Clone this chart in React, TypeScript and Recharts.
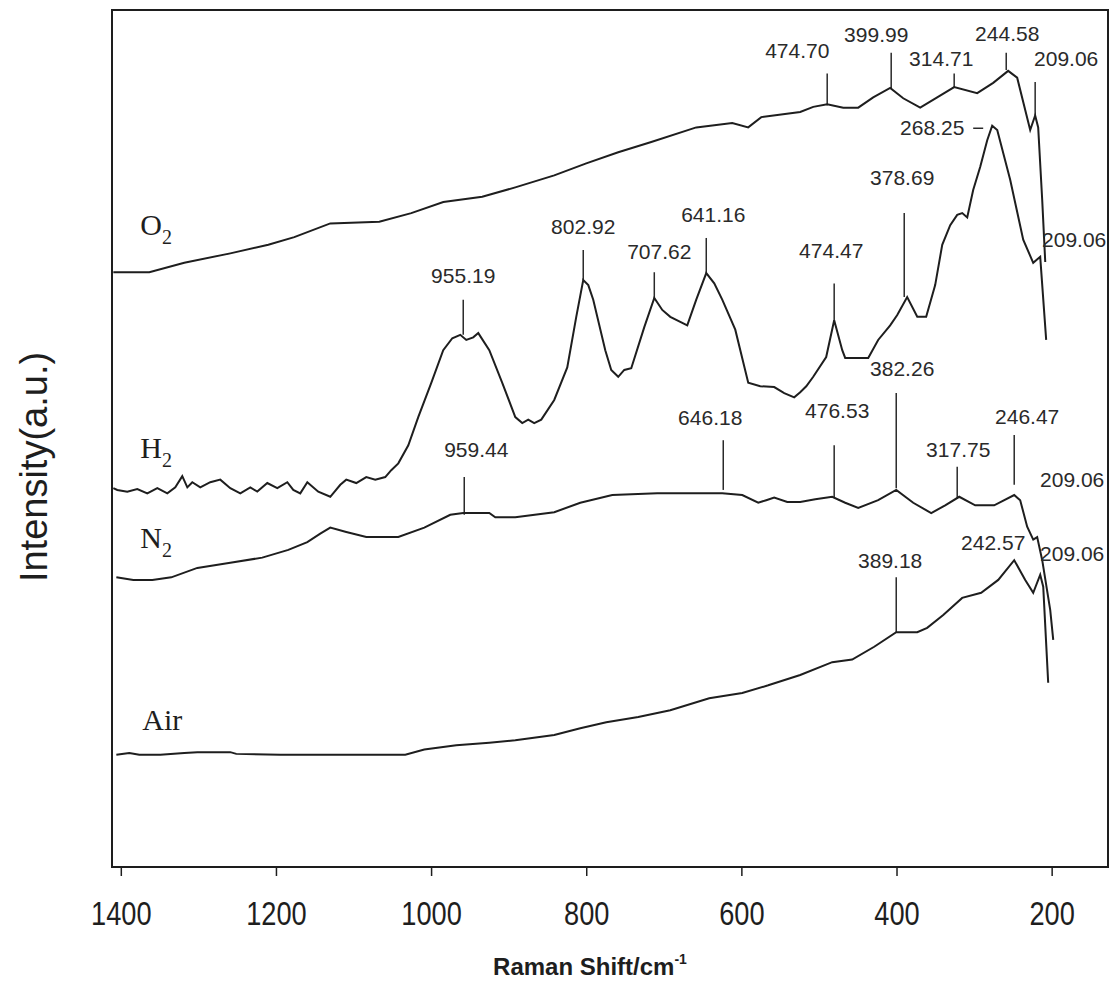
import React from "react";
import {
  ComposedChart,
  Line,
  Scatter,
  XAxis,
  YAxis,
  ReferenceLine,
  ReferenceArea,
} from "recharts";

// Raman spectra after treatment in each gas: [Raman shift (cm-1), intensity (a.u., traces offset)]
const o2Spectrum = [
  [1410.3, 69.4], [1363.9, 69.4], [1318.8, 70.5], [1259.5, 71.6], [1210.5, 72.6],
  [1177, 73.5], [1130.6, 75.1], [1067.4, 75.3], [1026.2, 76.3], [984.9, 77.6],
  [934.7, 78.2], [892.1, 79.3], [841.9, 80.7], [800.6, 82.1], [759.4, 83.4],
  [716.8, 84.6], [658.8, 86.3], [612.4, 86.8], [591.8, 86.3], [575, 87.5],
  [524.8, 88.1], [508, 88.7], [490, 89.0], [469.3, 88.6], [450, 88.6],
  [430.7, 89.8], [408.8, 90.9], [392, 89.7], [370.1, 88.6], [348.2, 89.8],
  [326.3, 91.0], [296.6, 90.3], [276, 91.5], [256.7, 92.9], [245.1, 92.1],
  [228.3, 86.0], [221.9, 87.7], [218, 86.3], [212.8, 77.8], [208.9, 70.6],
];

const h2Spectrum = [
  [1410.3, 44.2], [1405.2, 44.0], [1392.3, 43.8], [1379.4, 44.1], [1366.5, 43.6],
  [1353.6, 44.2], [1340.7, 43.6], [1330.4, 44.3], [1321.4, 45.6], [1314.9, 44.3],
  [1308.5, 44.9], [1298.2, 44.3], [1285.3, 44.9], [1272.4, 45.2], [1259.5, 44.2],
  [1246.6, 43.6], [1233.7, 44.3], [1224.7, 43.8], [1211.8, 44.8], [1198.9, 44.2],
  [1186, 44.9], [1178.3, 44.0], [1169.3, 43.6], [1160.2, 44.9], [1146.1, 43.8],
  [1130.6, 43.2], [1117.7, 44.6], [1110, 45.2], [1097.1, 44.8], [1084.2, 45.5],
  [1072.6, 45.2], [1059.7, 45.5], [1052, 46.3], [1042.9, 47.1], [1030, 49.2],
  [1017.2, 52.5], [1000.4, 56.5], [985, 60.3], [973.3, 61.7], [963, 62.1],
  [955.3, 61.5], [946.3, 61.8], [939.8, 62.3], [925.6, 60.3], [908.9, 56.5],
  [892.1, 52.5], [883.1, 51.8], [875.4, 52.2], [867.7, 51.8], [858.6, 52.2],
  [841.9, 54.5], [825.1, 58.3], [813.5, 64.2], [804.5, 68.5], [798, 67.9],
  [791.6, 66.2], [776.1, 60.3], [768.4, 58.0], [759.4, 57.2], [751.6, 58.0],
  [742.6, 58.2], [725.8, 63.0], [712.9, 66.4], [702.6, 65.0], [692.3, 64.2],
  [679.4, 63.6], [670.4, 63.2], [658.8, 66.2], [645.9, 69.3], [635.6, 68.1],
  [625.3, 66.2], [608.5, 62.7], [591.8, 56.5], [576.3, 56.1], [558.3, 56.0],
  [545.4, 55.3], [532.5, 54.8], [524.8, 55.4], [517, 56.1], [508, 57.2],
  [491.3, 59.5], [481, 63.8], [470.6, 60.3], [466.8, 59.4], [437.1, 59.4],
  [424.3, 61.5], [408.8, 63.2], [399.7, 64.4], [386.9, 66.5], [373.9, 64.2],
  [362.4, 64.2], [350.8, 67.9], [341.7, 72.6], [331.4, 74.9], [322.4, 76.1],
  [315.9, 76.3], [309.5, 75.8], [301.8, 79.0], [292.7, 81.7], [283.7, 84.8],
  [277.3, 86.5], [270.8, 86.0], [254.1, 80.2], [237.3, 73.2], [224.4, 70.5],
  [215.4, 71.2], [207.7, 61.5],
];

const n2Spectrum = [
  [1406.4, 33.8], [1384.5, 33.5], [1360, 33.5], [1335.6, 33.8], [1302, 34.9],
  [1259.5, 35.5], [1218.3, 36.1], [1184.7, 37.0], [1160.2, 37.9], [1143.5, 38.9],
  [1130.6, 39.6], [1110, 39.1], [1084.2, 38.5], [1042.9, 38.5], [1009.4, 39.6],
  [975.9, 41.1], [959.2, 41.3], [925.6, 41.3], [917.9, 40.8], [892.1, 40.8],
  [841.9, 41.4], [808.3, 42.5], [767.1, 43.4], [709.1, 43.6], [625.3, 43.6],
  [599.5, 43.4], [578.9, 42.5], [568.6, 42.8], [558.3, 43.1], [541.5, 42.6],
  [524.8, 42.6], [505.4, 42.9], [483.5, 43.2], [466.8, 42.5], [450, 41.9],
  [424.3, 42.8], [401, 44.0], [379.1, 42.5], [355.9, 41.3], [337.9, 42.2],
  [319.8, 43.2], [299.2, 42.2], [274.7, 42.2], [248.9, 43.4], [241.2, 42.8],
  [232.2, 39.7], [224.4, 38.2], [219.3, 38.5], [212.8, 35.8], [202.5, 30.0],
  [198.6, 26.5],
];

const airSpectrum = [
  [1406.4, 13.1], [1389.7, 13.3], [1376.8, 13.1], [1349.7, 13.1], [1318.8, 13.3],
  [1302, 13.4], [1259.5, 13.4], [1251.8, 13.2], [1195, 13.1], [1126.7, 13.1],
  [1033.9, 13.1], [1009.4, 13.7], [968.2, 14.2], [925.6, 14.5], [892.1, 14.8],
  [841.9, 15.4], [808.3, 16.2], [774.8, 16.9], [733.6, 17.5], [692.3, 18.3],
  [642.1, 19.7], [599.5, 20.3], [566, 21.2], [524.8, 22.4], [483.5, 23.9],
  [457.8, 24.2], [429.4, 25.7], [401, 27.4], [373.9, 27.4], [361.1, 27.9],
  [340.4, 29.4], [316, 31.4], [291.5, 32.0], [269.5, 33.5], [248.9, 35.8],
  [234.7, 33.5], [224.4, 32.0], [215.4, 34.1], [211.5, 32.7], [205.1, 21.5],
];

// peak labels (text at lx/ly) with optional marker line at pos, from top to bottom
const peaks = [
  { text: "474.70", lx: 528.6, ly: 95.3, pos: 490, top: 92.6, bottom: 88.9 },
  { text: "399.99", lx: 426.8, ly: 97.2, pos: 407.5, top: 95.0, bottom: 90.9 },
  { text: "314.71", lx: 343, ly: 94.4, pos: 326.3, top: 92.6, bottom: 91.0 },
  { text: "244.58", lx: 257.9, ly: 97.3, pos: 259.2, top: 95.0, bottom: 93.0 },
  { text: "209.06", lx: 181.9, ly: 94.4, pos: 221.9, top: 91.6, bottom: 87.7 },
  { text: "268.25", lx: 354.6, ly: 86.3 },
  { text: "378.69", lx: 393.3, ly: 80.5, pos: 390.7, top: 76.3, bottom: 66.5 },
  { text: "641.16", lx: 636.9, ly: 76.1, pos: 645.9, top: 73.4, bottom: 69.3 },
  { text: "802.92", lx: 804.5, ly: 74.7, pos: 804.5, top: 72.0, bottom: 68.5 },
  { text: "707.62", lx: 706.5, ly: 71.8, pos: 712.9, top: 69.4, bottom: 66.2 },
  { text: "474.47", lx: 484.8, ly: 72.0, pos: 481, top: 68.1, bottom: 63.8 },
  { text: "955.19", lx: 959.2, ly: 69.0, pos: 959.2, top: 66.2, bottom: 62.1 },
  { text: "209.06", lx: 171.6, ly: 73.2 },
  { text: "382.26", lx: 393.3, ly: 58.2, pos: 401, top: 55.3, bottom: 44.2 },
  { text: "476.53", lx: 477.1, ly: 53.3, pos: 481, top: 49.2, bottom: 43.1 },
  { text: "646.18", lx: 640.8, ly: 52.4, pos: 624, top: 49.8, bottom: 44.0 },
  { text: "246.47", lx: 232.2, ly: 52.6, pos: 248.9, top: 50.4, bottom: 44.6 },
  { text: "317.75", lx: 321.1, ly: 48.7, pos: 322.4, top: 46.7, bottom: 43.1 },
  { text: "959.44", lx: 942.4, ly: 48.7, pos: 957.9, top: 45.5, bottom: 41.1 },
  { text: "209.06", lx: 174.2, ly: 45.2 },
  { text: "389.18", lx: 408.8, ly: 35.8, pos: 401, top: 33.8, bottom: 27.4 },
  { text: "242.57", lx: 276, ly: 37.9 },
  { text: "209.06", lx: 174.2, ly: 36.6 },
];

// short dash after "268.25"
const leaders = [{ x1: 301.8, x2: 288.9, y: 86.2 }];

const traceNames = [
  { name: "O", sub: "2", x: 1375.5, y: 73.7 },
  { name: "H", sub: "2", x: 1375.5, y: 47.7 },
  { name: "N", sub: "2", x: 1375.5, y: 37.2 },
  { name: "Air", sub: "", x: 1373, y: 16.0 },
];

const xTicks = [1400, 1200, 1000, 800, 600, 400, 200];

const INK = "#1e1e1e";
const SANS = "'Liberation Sans', Arial, sans-serif";
const SERIF = "'Liberation Serif', 'Times New Roman', serif";

const toPts = (arr: number[][]) => arr.map(([x, y]) => ({ x, y }));

const XTick = (props: any) => {
  const { x, y, payload } = props;
  return (
    <g transform={`translate(${x},${y})`}>
      <text y={49} textAnchor="middle" transform="scale(0.8,1)" fontSize={34} fontFamily={SANS} fill={INK}>
        {payload.value}
      </text>
    </g>
  );
};

const PeakText = (props: any) => (
  <text x={props.cx} y={props.cy} dy="0.36em" textAnchor="middle" fontSize={21} fontFamily={SANS} fill="#2a2a2a">
    {props.payload.text}
  </text>
);

const NameText = (props: any) => (
  <text x={props.cx} y={props.cy} fontSize={30} fontFamily={SERIF} fill={INK}>
    {props.payload.name}
    {props.payload.sub && (
      <tspan fontSize={20} dy={9}>
        {props.payload.sub}
      </tspan>
    )}
  </text>
);

export default function App() {
  return (
    <div style={{ position: "absolute", left: 0, top: 0, background: "#fff" }}>
      <ComposedChart width={1112} height={984} margin={{ top: 10, right: 4, bottom: 0, left: 0 }}>
        <XAxis
          dataKey="x"
          type="number"
          domain={[128, 1412]}
          reversed
          allowDataOverflow
          ticks={xTicks}
          tick={XTick}
          tickSize={9}
          tickMargin={0}
          height={117}
          axisLine={{ stroke: INK, strokeWidth: 1.5 }}
          tickLine={{ stroke: INK, strokeWidth: 1.5 }}
          label={(p: any) => {
            const vb = p.viewBox;
            return (
              <text x={vb.x + 478} y={vb.y + 108} textAnchor="middle" fontSize={24} fontWeight="bold" fontFamily={SANS} fill={INK}>
                Raman Shift/cm
                <tspan fontSize={14} dy={-11}>-1</tspan>
              </text>
            );
          }}
        />
        <YAxis
          dataKey="y"
          type="number"
          domain={[0, 100]}
          allowDataOverflow
          width={112}
          tick={false}
          tickLine={false}
          axisLine={false}
          label={(p: any) => {
            const vb = p.viewBox;
            const cx = 33;
            const cy = vb.y + 457;
            return (
              <text x={cx} y={cy} dy="0.36em" transform={`rotate(-90 ${cx} ${cy})`} textAnchor="middle" fontSize={38} fontFamily={SANS} fill={INK}>
                Intensity(a.u.)
              </text>
            );
          }}
        />
        <ReferenceArea x1={1412} x2={128} y1={0} y2={100} fill="none" stroke={INK} strokeWidth={2} ifOverflow="visible" />

        {peaks
          .filter((p) => p.pos !== undefined)
          .map((p, i) => (
            <ReferenceLine
              key={"m" + i}
              segment={[{ x: p.pos, y: p.top }, { x: p.pos, y: p.bottom }]}
              stroke="#2a2a2a"
              strokeWidth={1.5}
            />
          ))}
        {leaders.map((l, i) => (
          <ReferenceLine key={"l" + i} segment={[{ x: l.x1, y: l.y }, { x: l.x2, y: l.y }]} stroke="#2a2a2a" strokeWidth={1.5} />
        ))}

        <Line data={toPts(o2Spectrum)} dataKey="y" type="linear" stroke={INK} strokeWidth={2} dot={false} isAnimationActive={false} />
        <Line data={toPts(h2Spectrum)} dataKey="y" type="linear" stroke={INK} strokeWidth={2} dot={false} isAnimationActive={false} />
        <Line data={toPts(n2Spectrum)} dataKey="y" type="linear" stroke={INK} strokeWidth={2} dot={false} isAnimationActive={false} />
        <Line data={toPts(airSpectrum)} dataKey="y" type="linear" stroke={INK} strokeWidth={2} dot={false} isAnimationActive={false} />

        <Scatter
          data={peaks.map((p) => ({ x: p.lx, y: p.ly, text: p.text }))}
          dataKey="y"
          shape={PeakText}
          isAnimationActive={false}
        />
        <Scatter data={traceNames} dataKey="y" shape={NameText} isAnimationActive={false} />
      </ComposedChart>
    </div>
  );
}
